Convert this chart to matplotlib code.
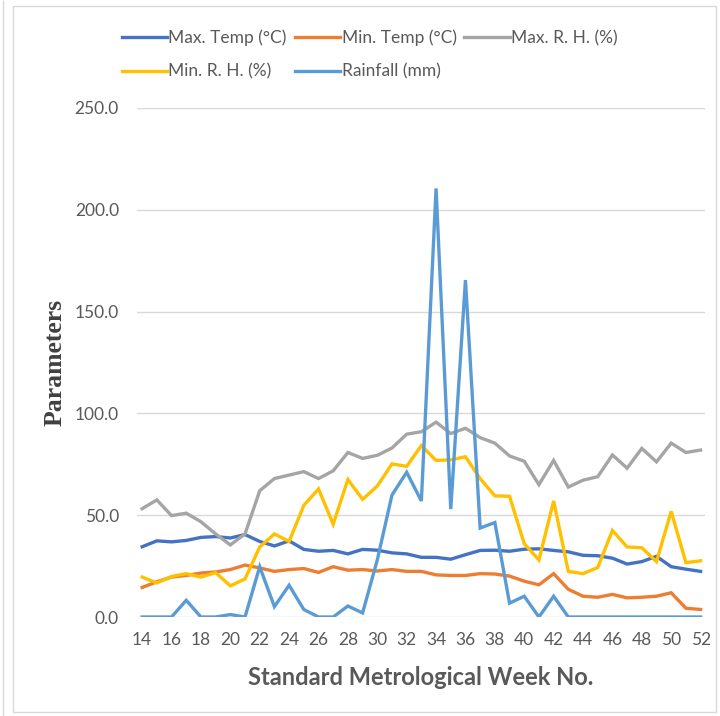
import matplotlib
matplotlib.use("Agg")
import matplotlib.pyplot as plt
from matplotlib.patches import Rectangle

# weekly weather data
weeks = list(range(14, 53))
max_temp = [34.5, 37.4, 36.9, 37.6, 39.1, 39.5, 38.8, 40.5, 37.1, 34.9, 37.4, 33.2, 32.3,
            32.7, 31.0, 33.2, 32.8, 31.5, 31.0, 29.3, 29.3, 28.4, 30.6, 32.7, 32.8, 32.3,
            33.3, 33.5, 32.7, 32.0, 30.3, 30.1, 28.9, 26.0, 27.2, 29.8, 24.7, 23.5, 22.4]
min_temp = [14.5, 17.3, 19.6, 20.4, 21.6, 22.1, 23.3, 25.5, 24.1, 22.4, 23.3, 23.8, 21.9,
            24.7, 23.0, 23.3, 22.6, 23.3, 22.4, 22.4, 20.7, 20.4, 20.4, 21.3, 21.1, 20.1,
            17.6, 15.8, 21.3, 13.6, 10.2, 9.7, 11.1, 9.4, 9.7, 10.2, 11.9, 4.3, 3.7]
max_rh = [53.2, 57.5, 49.8, 51.0, 46.8, 40.8, 35.4, 40.8, 62.0, 68.0, 69.7, 71.4, 68.0,
          71.8, 80.8, 77.9, 79.4, 83.0, 89.8, 91.0, 95.7, 90.1, 92.7, 88.1, 85.4, 79.1,
          76.5, 65.0, 76.9, 63.8, 67.2, 68.9, 79.6, 73.1, 82.8, 76.2, 85.4, 80.8, 82.0]
min_rh = [19.6, 16.7, 19.9, 21.3, 19.6, 21.8, 15.3, 18.7, 34.4, 40.8, 37.1, 54.8, 62.9,
          45.6, 67.5, 57.8, 64.3, 75.2, 74.0, 84.2, 76.9, 77.2, 78.7, 68.0, 59.5, 59.3,
          36.0, 28.0, 57.0, 22.4, 21.3, 24.3, 42.5, 34.4, 34.0, 27.2, 51.9, 26.7, 27.6]
rainfall = [0.0, 0.0, 0.0, 8.2, 0.0, 0.0, 1.2, 0.0, 24.7, 5.1, 15.6, 3.7, 0.0,
            0.0, 5.4, 2.0, 28.0, 59.9, 71.1, 57.0, 210.5, 53.0, 165.5, 43.7, 46.4, 6.8,
            10.2, 0.0, 10.2, 0.0, 0.0, 0.0, 0.0, 0.0, 0.0, 0.0, 0.0, 0.0, 0.0]

series = [("Max. Temp (\u00b0C)", max_temp, "#4472C4"),
          ("Min. Temp (\u00b0C)", min_temp, "#ED7D31"),
          ("Max. R. H. (%)", max_rh, "#A5A5A5"),
          ("Min. R. H. (%)", min_rh, "#FFC000"),
          ("Rainfall (mm)", rainfall, "#5B9BD5")]

plt.rcParams['font.family'] = ['Lato', 'DejaVu Sans']
txt = "#595959"

fig = plt.figure(figsize=(7.2, 7.16), dpi=100)
ax = fig.add_axes([137/720, 1-617/716, 568/720, 509/716])

lines = {}
for name, vals, col in series:
    l, = ax.plot(weeks, vals, color=col, lw=2.4, solid_joinstyle='miter', label=name)
    lines[name] = l

ax.set_ylim(0, 250)
ax.set_xlim(13.65, 52.3)
ax.set_yticks(range(0, 251, 50))
ax.set_yticklabels(["%.1f" % v for v in range(0, 251, 50)])
ax.set_xticks(weeks[::2])
ax.grid(axis='y', color="#D9D9D9", lw=1)
ax.set_axisbelow(True)
for s in ax.spines.values():
    s.set_visible(False)
ax.tick_params(length=0, labelsize=12.5, colors=txt)
ax.tick_params(axis='y', pad=13)
ax.tick_params(axis='x', pad=11)

ax.set_xlabel("Standard Metrological Week No.", fontsize=17, fontweight='bold',
              color=txt, labelpad=13)
ax.set_ylabel("Parameters", fontsize=18.5, fontweight='bold', color="#404040",
              family='Liberation Serif', labelpad=6)

# row-major order for the two-row legend
order = ["Max. Temp (\u00b0C)", "Min. R. H. (%)", "Min. Temp (\u00b0C)",
         "Rainfall (mm)", "Max. R. H. (%)"]
fig.legend([lines[n] for n in order], order, ncol=3, loc='upper left',
           bbox_to_anchor=(106/720, 1-14/716), frameon=False, fontsize=12.5,
           labelcolor=txt, handlelength=2.6, handletextpad=0.1,
           columnspacing=0.45, labelspacing=1.0)

# outer chart border
fig.patches.append(Rectangle((13/720, 4/716), 703/720, 706/716, transform=fig.transFigure,
                             fill=False, edgecolor="#D9D9D9", lw=1))
fig.patches.append(Rectangle((3/720, 0), 0, 1, transform=fig.transFigure,
                             fill=False, edgecolor="#D9D9D9", lw=1))

fig.savefig("out.png", dpi=100)
